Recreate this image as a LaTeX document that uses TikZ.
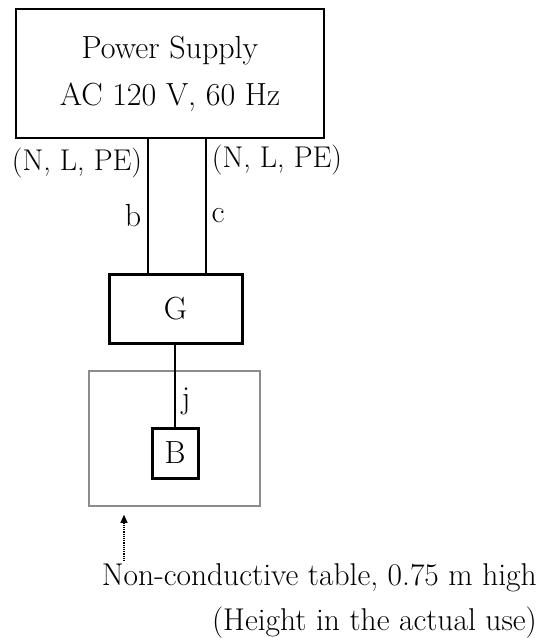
\documentclass[tikz,border=0pt]{standalone}
\usepackage{tikz}
\usetikzlibrary{arrows.meta, positioning}

\begin{document}
\begin{tikzpicture}[x=1pt, y=-1pt, >=Triangle]
        \tikzset{
            supplynode/.style={draw=black, line width=1.6pt, rectangle, minimum width=308pt, minimum height=129pt, align=center, inner sep=0pt, font=\fontsize{32}{47}\selectfont},
            unitnode/.style={draw=black, line width=3pt, rectangle, inner sep=0pt, font=\fontsize{32}{38}\selectfont},
            tablenode/.style={draw=black!45, line width=1.6pt, rectangle, minimum width=171pt, minimum height=135pt, inner sep=0pt},
            labelnode/.style={inner sep=0pt, font=\fontsize{32}{38}\selectfont},
            wirelabel/.style={inner sep=0pt, font=\fontsize{30}{36}\selectfont},
            wire/.style={line width=1.6pt}
        }
        \useasboundingbox (0,0) rectangle (544,638);

        \node [supplynode] (supply) at (170,73.5) {Power Supply\\AC 120 V, 60 Hz};
        \node [unitnode, minimum width=133pt, minimum height=69pt] (G) at (175.5,308.5) {G};
        \node [tablenode] (table) at (174.5,438.5) {};
        \node [unitnode, minimum width=46pt, minimum height=50pt] (B) at (175,453) {B};

        \coordinate (bx) at (148,0);
        \coordinate (cx) at (206,0);
        \coordinate (ax) at (124,560);

        % cables
        \draw [wire] (supply.south -| bx) -- (G.north -| bx);
        \draw [wire] (supply.south -| cx) -- (G.north -| cx);
        \draw [wire] (G.south -| B.north) -- (B.north);

        \node [wirelabel] (nlpe1) at (77,163) {(N, L, PE)};
        \node [wirelabel] (nlpe2) at (277,160) {(N, L, PE)};
        \node [labelnode] (b) at (133,216) {b};
        \node [labelnode] (c) at (218,216) {c};
        \node [labelnode] (j) at (186,401) {j};

        % table note
        \node [labelnode, align=right, anchor=north east, font=\fontsize{31.5}{45}\selectfont] (note) at (537,563) {Non-conductive table, 0.75 m high\\(Height in the actual use)};
        \draw [->, densely dotted, line width=1.2pt, {Triangle[length=8pt, width=7pt]}-] (table.south -| ax) ++(0,8) -- (ax);
    \end{tikzpicture}
\end{document}
